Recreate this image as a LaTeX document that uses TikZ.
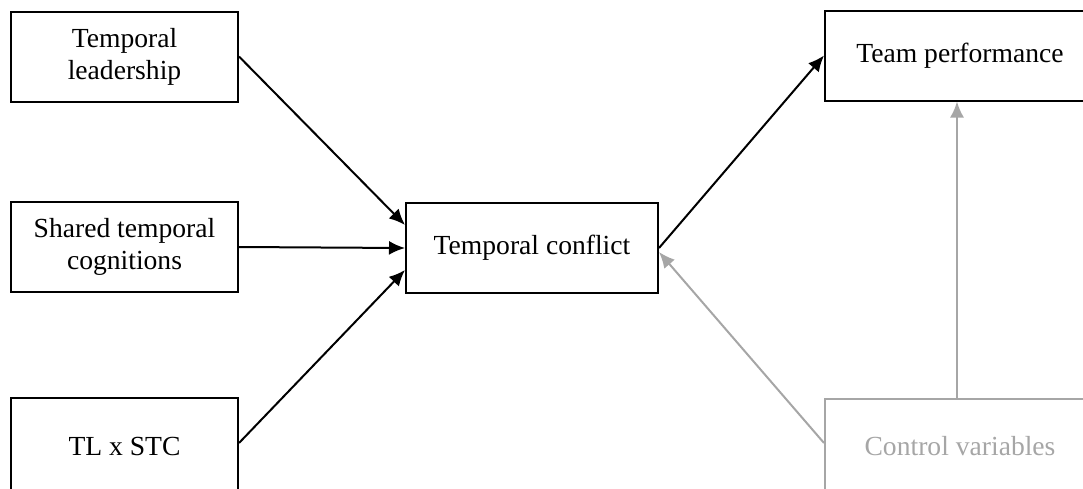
\documentclass[tikz,border=0pt]{standalone}
\usepackage{fontspec}
\setmainfont{Liberation Serif}
\usetikzlibrary{arrows.meta}
\definecolor{ctrlgrey}{RGB}{166,166,166}

\begin{document}
\begin{tikzpicture}[x=1pt, y=-1pt, font=\fontsize{27.6}{32}\selectfont, >={Latex[length=16pt,width=14pt]}, line width=2pt,
    box/.style={draw, rectangle, align=center, minimum height=90pt, inner sep=0pt},
    ctrlbox/.style={box, draw=ctrlgrey, text=ctrlgrey}]
    \useasboundingbox (0,0) rectangle (1083,488);
    \clip (0,0) rectangle (1083,488);
    % predictors
    \node[box, minimum width=227pt] (lead) at (124.5,56.5) {Temporal\\leadership};
    \node[box, minimum width=227pt] (shared) at (124.5,247) {Shared temporal\\cognitions};
    \node[box, minimum width=227pt, minimum height=96pt] (inter) at (124.5,446) {TL x STC};
    % mediator and outcome
    \node[box, minimum width=252pt] (conf) at (532,248) {Temporal conflict};
    \node[box, minimum width=270pt] (perf) at (960,55.5) {Team performance};
    \node[ctrlbox, minimum width=270pt, minimum height=94pt] (ctrl) at (960,446) {Control variables};
    % paths
    \draw[->] (lead.east) -- ([yshift=23pt]conf.west);
    \draw[->] (shared.east) -- (conf.west);
    \draw[->] ([yshift=3pt]inter.east) -- ([yshift=-22pt]conf.west);
    \draw[->] (conf.east) -- (perf.west);
    \draw[->, ctrlgrey] ([yshift=3pt]ctrl.west) -- ([yshift=-4pt]conf.east);
    \draw[->, ctrlgrey] ([xshift=-3pt]ctrl.north) -- ([xshift=-3pt]perf.south);
  \end{tikzpicture}
\end{document}
